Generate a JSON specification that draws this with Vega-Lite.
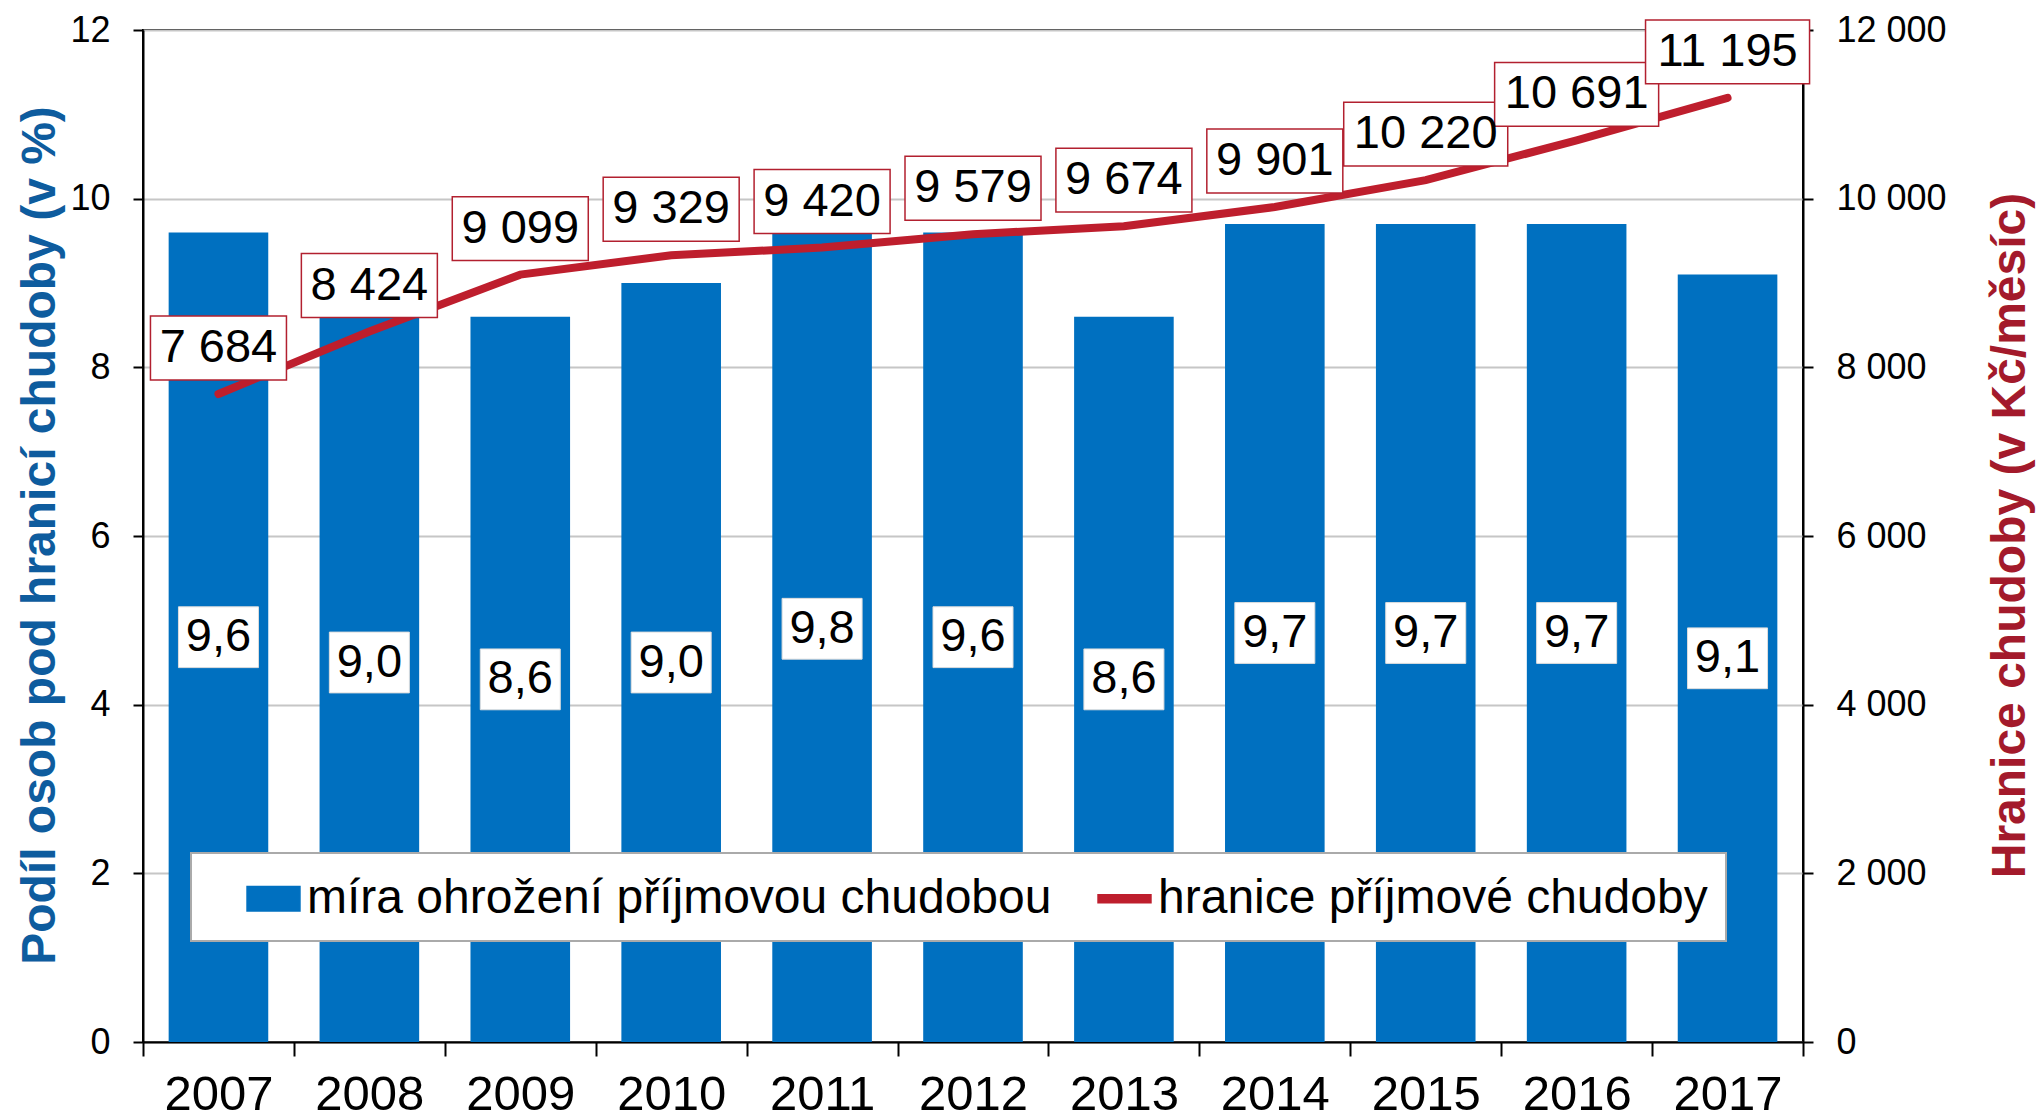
{
  "$schema": "https://vega.github.io/schema/vega-lite/v6.json",
  "width": 1660,
  "height": 1012,
  "autosize": {"type": "none"},
  "padding": {"left": 143, "top": 30, "right": 234, "bottom": 76},
  "background": "white",
  "config": {
    "font": "Liberation Sans",
    "locale": {"number": {"decimal": ",", "thousands": " ", "grouping": [3], "currency": ["", " Kč"]}},
    "view": {"stroke": "black", "strokeWidth": 2},
    "axis": {
      "domainColor": "black", "domainWidth": 2,
      "tickColor": "black", "tickWidth": 2,
      "labelColor": "black", "labelFont": "Liberation Sans",
      "gridColor": "#c6c6c6", "gridWidth": 2
    }
  },
  "data": {"values": [
    {"year": "2007", "rate": 9.6, "limit": 7684},
    {"year": "2008", "rate": 9.0, "limit": 8424},
    {"year": "2009", "rate": 8.6, "limit": 9099},
    {"year": "2010", "rate": 9.0, "limit": 9329},
    {"year": "2011", "rate": 9.8, "limit": 9420},
    {"year": "2012", "rate": 9.6, "limit": 9579},
    {"year": "2013", "rate": 8.6, "limit": 9674},
    {"year": "2014", "rate": 9.7, "limit": 9901},
    {"year": "2015", "rate": 9.7, "limit": 10220},
    {"year": "2016", "rate": 9.7, "limit": 10691},
    {"year": "2017", "rate": 9.1, "limit": 11195}
  ]},
  "encoding": {
    "x": {
      "field": "year", "type": "ordinal",
      "scale": {"paddingInner": 0, "paddingOuter": 0},
      "axis": {
        "title": null, "labelAngle": 0, "labelFontSize": 49,
        "tickSize": 14, "tickBand": "extent", "labelPadding": 14
      }
    }
  },
  "layer": [
    {
      "mark": {"type": "bar", "color": "#0070C0", "width": {"band": 0.66}},
      "encoding": {
        "y": {
          "field": "rate", "type": "quantitative",
          "scale": {"domain": [0, 12], "nice": false},
          "axis": {
            "orient": "left", "values": [0, 2, 4, 6, 8, 10, 12],
            "tickSize": 10, "labelPadding": 23, "labelFontSize": 36,
            "grid": true,
            "title": "Podíl osob pod hranicí chudoby (v %)",
            "titleFontSize": 48, "titleFontWeight": "bold", "titleColor": "#0E5C9E",
            "titleAngle": -90, "titleX": -89, "titleY": 505,
            "titleAlign": "center", "titleBaseline": "alphabetic"
          }
        },
        "color": {
          "datum": "míra ohrožení příjmovou chudobou",
          "scale": {
            "domain": ["míra ohrožení příjmovou chudobou", "hranice příjmové chudoby"],
            "range": ["#0070C0", "#BE1E2D"]
          },
          "legend": {
            "orient": "none", "legendX": 48, "legendY": 823,
            "direction": "horizontal", "title": null,
            "labelFontSize": 48, "labelFont": "Liberation Sans", "labelColor": "black",
            "labelLimit": 2000, "padding": 18,
            "strokeColor": "#aaaaaa", "fillColor": "white",
            "symbolOffset": 37, "columnPadding": 8, "labelOffset": 6,
            "symbolSize": 2800,
            "encode": {
              "legend": {"update": {"strokeWidth": {"value": 2}}},
              "symbols": {"update": {
                "shape": [
                  {"test": "datum.value === 'hranice příjmové chudoby'", "value": "M-1,-0.15H1V0.15H-1Z"},
                  {"value": "M-1,-0.46H1V0.46H-1Z"}
                ],
                "fill": [
                  {"test": "datum.value === 'hranice příjmové chudoby'", "value": "#BE1E2D"},
                  {"value": "#0070C0"}
                ],
                "stroke": {"value": "transparent"},
                "opacity": {"value": 1}
              }}
            }
          }
        }
      }
    },
    {
      "encoding": {
        "y": {
          "field": "rate", "type": "quantitative",
          "scale": {"domain": [0, 24], "nice": false},
          "axis": null
        }
      },
      "layer": [
        {
          "mark": {
            "type": "point", "shape": "M-1,-0.76H1V0.76H-1Z", "size": 6400,
            "filled": true, "fill": "white", "stroke": "#dddddd", "strokeWidth": 1, "opacity": 1
          }
        },
        {
          "mark": {"type": "text", "fontSize": 47, "baseline": "middle", "align": "center", "color": "black"},
          "encoding": {"text": {"field": "rate", "type": "quantitative", "format": ".1f"}}
        }
      ]
    },
    {
      "encoding": {
        "y": {
          "field": "limit", "type": "quantitative",
          "scale": {"domain": [0, 12000], "nice": false},
          "axis": {
            "orient": "right", "values": [0, 2000, 4000, 6000, 8000, 10000, 12000],
            "format": ",.0f",
            "tickSize": 10, "labelPadding": 23, "labelFontSize": 36,
            "grid": false,
            "title": "Hranice chudoby (v Kč/měsíc)",
            "titleFontSize": 48, "titleFontWeight": "bold", "titleColor": "#A31A2B",
            "titleAngle": -90, "titleX": 221, "titleY": 505,
            "titleAlign": "center", "titleBaseline": "alphabetic"
          }
        }
      },
      "layer": [
        {
          "mark": {"type": "line", "strokeWidth": 8, "strokeCap": "round"},
          "encoding": {"color": {"datum": "hranice příjmové chudoby"}}
        },
        {
          "mark": {
            "type": "point", "size": 18496, "filled": true, "fill": "white",
            "stroke": "#B2202F", "strokeWidth": 1.5, "opacity": 1, "yOffset": -46
          },
          "encoding": {
            "shape": {
              "condition": {"test": "datum.limit >= 10000", "value": "M-1.206,-0.47H1.206V0.47H-1.206Z"},
              "value": "M-1,-0.47H1V0.47H-1Z"
            }
          }
        },
        {
          "mark": {"type": "text", "fontSize": 47, "baseline": "middle", "align": "center", "color": "black", "yOffset": -46},
          "encoding": {"text": {"field": "limit", "type": "quantitative", "format": ",.0f"}}
        }
      ]
    }
  ],
  "resolve": {"scale": {"y": "independent"}}
}
